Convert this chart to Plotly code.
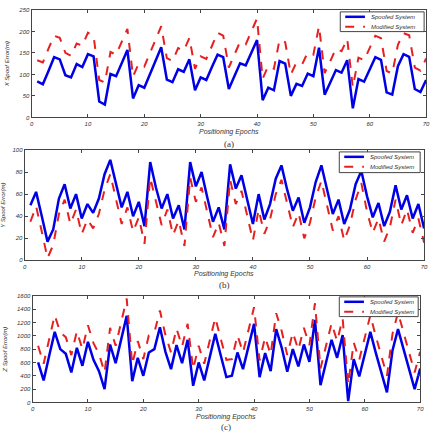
import plotly.graph_objects as go

epochs = list(range(1, 71))

x_spoofed = [84, 77, 108, 140, 135, 98, 93, 124, 117, 147, 142, 37, 30, 101, 96, 126, 157, 44, 75, 69,
             100, 131, 163, 88, 82, 112, 106, 135, 63, 93, 87, 117, 146, 140, 66, 96, 126, 121, 150, 180,
             40, 69, 63, 131, 125, 50, 78, 73, 102, 96, 162, 53, 81, 110, 104, 133, 21, 89, 83, 111,
             140, 134, 58, 53, 119, 147, 141, 66, 59, 87]
x_modified = [133, 128, 160, 190, 185, 150, 143, 172, 167, 197, 190, 87, 81, 152, 146, 176, 206, 95, 125, 118,
              150, 180, 212, 138, 131, 161, 155, 185, 113, 142, 136, 166, 197, 190, 116, 146, 176, 170, 200, 230,
              90, 120, 113, 181, 175, 100, 128, 123, 151, 146, 212, 103, 131, 160, 154, 183, 70, 139, 133, 161,
              190, 184, 108, 102, 169, 196, 191, 116, 109, 137]

y_spoofed = [50, 62, 40, 17, 28, 56, 69, 47, 60, 38, 51, 43, 56, 78, 91, 68, 48, 62, 40, 53,
             31, 89, 66, 47, 60, 38, 50, 28, 89, 67, 80, 57, 35, 48, 28, 87, 65, 77, 54, 33,
             60, 37, 51, 74, 86, 64, 45, 57, 34, 48, 71, 86, 64, 42, 55, 33, 46, 69, 81, 58,
             39, 52, 31, 44, 68, 46, 59, 38, 51, 29]
y_modified = [35, 49, 26, 2, 14, 42, 55, 33, 46, 24, 37, 29, 42, 64, 78, 55, 33, 48, 26, 39,
              15, 75, 52, 32, 46, 23, 36, 13, 75, 53, 66, 43, 21, 34, 13, 73, 51, 63, 40, 18,
              46, 24, 37, 60, 73, 50, 30, 43, 20, 34, 57, 72, 50, 27, 40, 18, 32, 55, 70, 44,
              25, 38, 17, 30, 55, 32, 46, 25, 38, 16]

z_spoofed = [600, 330, 700, 1060, 800, 730, 450, 820, 550, 910, 640, 470, 200, 870, 590, 950, 1300, 320, 670, 400,
             750, 800, 1130, 760, 500, 860, 590, 940, 250, 600, 330, 680, 1030, 700, 380, 400, 750, 500, 850, 1180,
             380, 740, 470, 1100, 820, 460, 800, 540, 870, 610, 1240, 260, 600, 940, 670, 1010, 20, 650, 390, 720,
             1060, 740, 440, 150, 780, 1100, 800, 500, 200, 510]
z_modified = [850, 580, 950, 1310, 1050, 980, 710, 1070, 800, 1160, 890, 730, 450, 1120, 850, 1200, 1560, 570, 920, 650,
              1010, 1050, 1380, 1010, 750, 1110, 840, 1180, 500, 850, 580, 930, 1270, 950, 640, 650, 1010, 750, 1100, 1430,
              630, 980, 720, 1340, 1070, 710, 1050, 790, 1120, 860, 1490, 510, 850, 1190, 920, 1260, 270, 900, 640, 970,
              1310, 990, 690, 400, 1030, 1350, 1050, 750, 450, 760]

series_names = ["Spoofed System", "Modified System"]

panels = [
    (x_spoofed, x_modified, "X Spoof Error(m)", [0, 250], 50, "(a)"),
    (y_spoofed, y_modified, "Y Spoof Error(m)", [0, 100], 20, "(b)"),
    (z_spoofed, z_modified, "Z Spoof Error(m)", [0, 1600], 200, "(c)"),
]

W, H = 436, 434
# pixel boxes: left, right, top, bottom
boxes = [(30, 430, 7, 116), (23, 428, 149, 261), (31, 424, 297, 405)]
# legend boxes: left, right, top, bottom, row1 y, row2 y
leg_boxes = [(343, 428, 9, 29, 14, 24), (342, 424, 151, 172, 156, 166), (342, 422, 298, 318, 303, 313)]
label_y = [143, 286, 430]
xtitle_y = [131, 275, 420]

styles = [dict(color="#0000e6", width=2.5), dict(color="#e62020", width=2, dash="dash")]

fig = go.Figure()
tickfont = dict(family="Liberation Sans", size=6, color="#333", style="italic")
txtfont = dict(family="Liberation Sans", size=7, color="#333", style="italic")
legfont = dict(family="Liberation Sans", size=6, color="#333", style="italic")

def px(xp):
    return xp / W

def py(yp):
    return 1 - yp / H

for i, (s, m, ytitle, yr, dt, lab) in enumerate(panels):
    n = "" if i == 0 else str(i + 1)
    for vals, name, st in zip([s, m], series_names, styles):
        fig.add_trace(go.Scatter(x=epochs, y=vals, mode="lines", name=name, line=st,
                                 xaxis="x" + n, yaxis="y" + n, showlegend=False))
    l, r, t, b = boxes[i]
    fig.layout["xaxis" + n] = dict(domain=[px(l), px(r)], range=[0, 70], dtick=10, tick0=0,
                                   showline=True, linecolor="#444", linewidth=1, mirror="ticks",
                                   ticks="inside", ticklen=3, tickcolor="#444",
                                   showgrid=False, zeroline=False, tickfont=tickfont,
                                   ticklabeloverflow="allow", anchor="y" + n)
    fig.layout["yaxis" + n] = dict(domain=[py(b), py(t)], range=yr, dtick=dt, tick0=0,
                                   showline=True, linecolor="#444", linewidth=1, mirror="ticks",
                                   ticks="inside", ticklen=3, tickcolor="#444",
                                   showgrid=False, zeroline=False, tickfont=tickfont,
                                   ticklabeloverflow="allow",
                                   title=dict(text=ytitle, font=dict(family="Liberation Sans", size=6,
                                                                     color="#333", style="italic"),
                                              standoff=8),
                                   anchor="x" + n)
    # legend box
    ll, lr, lt, lb, r1, r2 = leg_boxes[i]
    fig.add_shape(type="rect", xref="paper", yref="paper", x0=px(ll), x1=px(lr), y0=py(lb), y1=py(lt),
                  line=dict(color="#444", width=1), fillcolor="white", layer="above")
    for rowy, name, st in zip([r1, r2], series_names, styles):
        fig.add_shape(type="line", xref="paper", yref="paper", x0=px(ll + 5), x1=px(ll + 25),
                      y0=py(rowy), y1=py(rowy), line=st, layer="above")
        fig.add_annotation(text=name, xref="paper", yref="paper", x=px(ll + 29), y=py(rowy),
                           xanchor="left", yanchor="middle", showarrow=False, font=legfont)
    fig.add_annotation(text="Positioning Epochs", xref="paper", yref="paper",
                       x=px((l + r) / 2), y=py(xtitle_y[i]), xanchor="center", yanchor="middle",
                       showarrow=False, font=txtfont)
    fig.add_annotation(text=lab, xref="paper", yref="paper",
                       x=px((l + r) / 2), y=py(label_y[i]), xanchor="center", yanchor="middle",
                       showarrow=False, font=dict(family="Liberation Serif", size=9, color="#333"))

fig.update_layout(width=W, height=H, margin=dict(l=0, r=0, t=0, b=0),
                  paper_bgcolor="white", plot_bgcolor="white", showlegend=False)

fig.write_html("out.html", config={"displayModeBar": False},
               post_script="document.body.style.margin='0';document.body.style.overflow='hidden';")
